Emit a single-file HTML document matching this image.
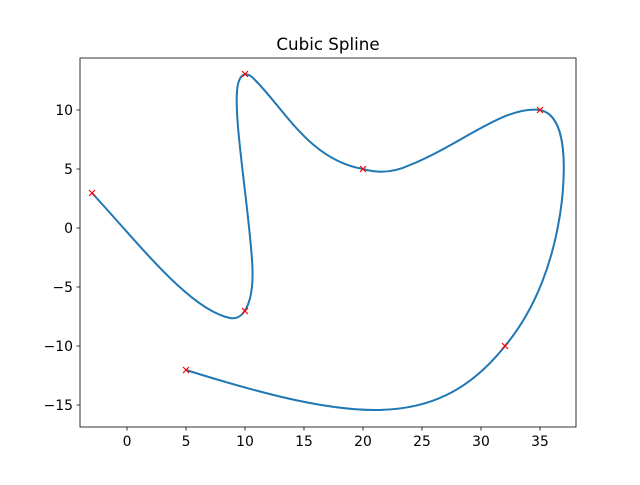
<!DOCTYPE html>
<html><head><meta charset="utf-8"><style>body{margin:0;background:#fff}</style></head>
<body>
<svg width="640" height="480" xmlns="http://www.w3.org/2000/svg" font-family="DejaVu Sans, Liberation Sans, sans-serif" font-size="13.9">
<rect width="640" height="480" fill="#fff"/>
<text x="328" y="50" font-size="16.7" text-anchor="middle">Cubic Spline</text>
<path d="M92,193 C140,245 190,310 230,318 C245,321 255,300 252,260 C248,200 232,110 238,84 C241,72 248,72 255,80 C285,110 310,160 363,169 C380,174 395,172 410,165 C460,145 505,105 540,110 C565,115 566,160 562,200 C555,260 535,310 505,346 C470,390 430,410 375,410 C320,410 250,390 186,370" fill="none" stroke="#1f77b4" stroke-width="2"/>
<g stroke="red" stroke-width="1.2">
<path d="M89,190l6,6M95,190l-6,6"/>
<path d="M242,308l6,6M248,308l-6,6"/>
<path d="M242,71l6,6M248,71l-6,6"/>
<path d="M360,166l6,6M366,166l-6,6"/>
<path d="M537,107l6,6M543,107l-6,6"/>
<path d="M502,343l6,6M508,343l-6,6"/>
<path d="M183,367l6,6M189,367l-6,6"/>
</g>
<rect x="80" y="58" width="496" height="369" fill="none" stroke="#000" stroke-width="0.8"/>
<g stroke="#000" stroke-width="0.8">
<path d="M127,427v3.5M186,427v3.5M245,427v3.5M304,427v3.5M363,427v3.5M422,427v3.5M481,427v3.5M540,427v3.5"/>
<path d="M80,110h-3.5M80,169h-3.5M80,228h-3.5M80,287h-3.5M80,346h-3.5M80,405h-3.5"/>
</g>
<g text-anchor="middle">
<text x="127" y="446">0</text><text x="186" y="446">5</text><text x="245" y="446">10</text><text x="304" y="446">15</text>
<text x="363" y="446">20</text><text x="422" y="446">25</text><text x="481" y="446">30</text><text x="540" y="446">35</text>
</g>
<g text-anchor="end">
<text x="73" y="115">10</text><text x="73" y="174">5</text><text x="73" y="233">0</text>
<text x="73" y="292">−5</text><text x="73" y="351">−10</text><text x="73" y="410">−15</text>
</g>
</svg>
</body></html>
